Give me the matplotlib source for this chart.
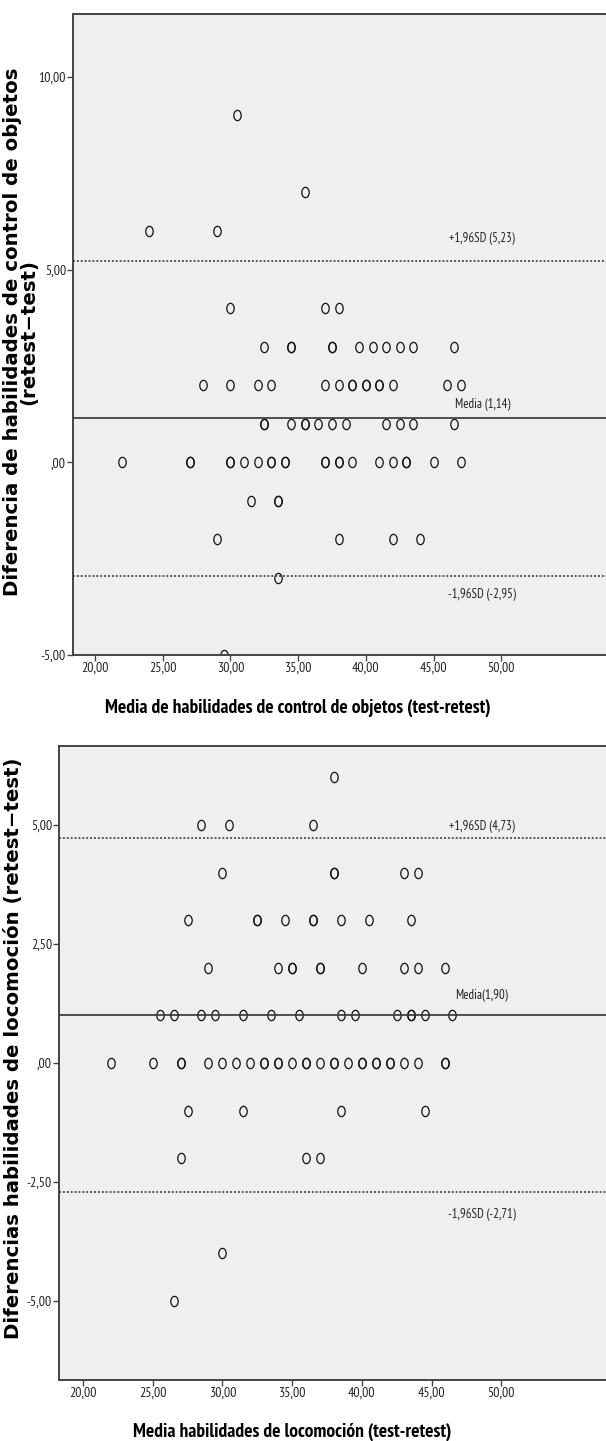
import numpy as np
import matplotlib
matplotlib.use("Agg")
import matplotlib.pyplot as plt
from matplotlib.path import Path

# Control de objetos: media (test-retest) vs diferencia (retest-test)
ctrl_x = [30.5,
          35.5,
          24, 29,
          30, 37, 38,
          32.5, 34.5, 34.5, 37.5, 37.5, 39.5, 40.5, 41.5, 42.5, 43.5, 46.5,
          28, 30, 32, 33, 37, 38, 39, 39, 40, 40, 41, 41, 42, 46, 47,
          32.5, 32.5, 34.5, 35.5, 35.5, 36.5, 37.5, 38.5, 41.5, 42.5, 43.5, 46.5,
          22, 27, 27, 30, 30, 31, 32, 33, 33, 34, 34, 37, 37, 38, 38, 39, 41, 42, 43, 43, 45, 47,
          31.5, 33.5, 33.5,
          29, 38, 42, 44,
          33.5,
          29.5]
ctrl_y = [9,
          7,
          6, 6,
          4, 4, 4,
          3, 3, 3, 3, 3, 3, 3, 3, 3, 3, 3,
          2, 2, 2, 2, 2, 2, 2, 2, 2, 2, 2, 2, 2, 2, 2,
          1, 1, 1, 1, 1, 1, 1, 1, 1, 1, 1, 1,
          0, 0, 0, 0, 0, 0, 0, 0, 0, 0, 0, 0, 0, 0, 0, 0, 0, 0, 0, 0, 0, 0,
          -1, -1, -1,
          -2, -2, -2, -2,
          -3,
          -5]
ctrl_mean = 1.14
ctrl_upper = 5.23
ctrl_lower = -2.95

# Locomocion
loco_x = [38,
          28.5, 30.5, 36.5,
          30, 38, 38, 43, 44,
          27.5, 32.5, 32.5, 34.5, 36.5, 36.5, 38.5, 40.5, 43.5,
          29, 34, 35, 35, 37, 37, 40, 43, 44, 46,
          25.5, 26.5, 28.5, 29.5, 31.5, 33.5, 35.5, 38.5, 39.5, 42.5, 43.5, 43.5, 44.5, 46.5,
          22, 25, 27, 27, 29, 30, 31, 32, 33, 33, 34, 34, 35, 36, 36, 37, 38, 38, 39, 40, 40,
          41, 41, 42, 42, 43, 44, 46, 46,
          27.5, 31.5, 38.5, 44.5,
          27, 36, 37,
          30,
          26.5]
loco_y = [6,
          5, 5, 5,
          4, 4, 4, 4, 4,
          3, 3, 3, 3, 3, 3, 3, 3, 3,
          2, 2, 2, 2, 2, 2, 2, 2, 2, 2,
          1, 1, 1, 1, 1, 1, 1, 1, 1, 1, 1, 1, 1, 1,
          0, 0, 0, 0, 0, 0, 0, 0, 0, 0, 0, 0, 0, 0, 0, 0, 0, 0, 0, 0, 0,
          0, 0, 0, 0, 0, 0, 0, 0,
          -1, -1, -1, -1,
          -2, -2, -2,
          -4,
          -5]
loco_mean_line = 1.0   # the drawn line sits at 1,00 in the original
loco_upper = 4.73
loco_lower = -2.71

ctrl_yticks = [-5, 0, 5, 10]
ctrl_yticklabels = ["-5,00", ",00", "5,00", "10,00"]
loco_yticks = [-5, -2.5, 0, 2.5, 5]
loco_yticklabels = ["-5,00", "-2,50", ",00", "2,50", "5,00"]
xticks = [20, 25, 30, 35, 40, 45, 50]
xticklabels = ["20,00", "25,00", "30,00", "35,00", "40,00", "45,00", "50,00"]

narrow = ["PT Sans Narrow", "DejaVu Sans"]

circ = Path.unit_circle()
oval = Path(circ.vertices * np.array([0.72, 1.0]), circ.codes)

fig = plt.figure(figsize=(6.06, 14.41), dpi=100)
W, H = 606.0, 1441.0


def panel(rect, xs, ys, xlim, ylim, yticks, yticklabels, lines, labels):
    left, top, right, bottom = rect
    ax = fig.add_axes([left / W, 1 - bottom / H, (right - left) / W, (bottom - top) / H])
    ax.set_facecolor("#efefef")
    for s in ax.spines.values():
        s.set_color("#444444")
        s.set_linewidth(1.4)
    ax.plot(xs, ys, linestyle="none", marker=oval, markersize=7.4,
            markerfacecolor="none", markeredgecolor="#111111", markeredgewidth=0.9)
    mean, up, lo = lines
    ax.axhline(up, color="#555555", lw=1.4, ls=(0, (1, 1)))
    ax.axhline(mean, color="#333333", lw=1.2)
    ax.axhline(lo, color="#555555", lw=1.4, ls=(0, (1, 1)))
    for (yv, txt, dy) in labels:
        ax.annotate(txt, (48.6, yv), xytext=(0, dy), textcoords="offset points",
                    ha="center", va="center", fontsize=9.2, family=narrow, color="#222222")
    ax.set_xlim(*xlim)
    ax.set_ylim(*ylim)
    ax.set_xticks(xticks)
    ax.set_xticklabels(xticklabels)
    ax.set_yticks(yticks)
    ax.set_yticklabels(yticklabels)
    ax.tick_params(direction="out", length=4, width=1, color="#444444", pad=1,
                   labelsize=10, labelcolor="#222222")
    for lab in ax.get_xticklabels() + ax.get_yticklabels():
        lab.set_family(narrow)
    return ax


ax1 = panel((73, 14, 620, 655), ctrl_x, ctrl_y, (18.37, 58.77), (-5, 11.63),
            ctrl_yticks, ctrl_yticklabels, (ctrl_mean, ctrl_upper, ctrl_lower),
            [(ctrl_upper, "+1,96SD (5,23)", 16), (ctrl_mean, "Media (1,14)", 10),
             (ctrl_lower, "-1,96SD (-2,95)", -13)])
ax2 = panel((59, 746, 620, 1380), loco_x, loco_y, (18.28, 58.52), (-6.66, 6.66),
            loco_yticks, loco_yticklabels, (loco_mean_line, loco_upper, loco_lower),
            [(loco_upper, "+1,96SD (4,73)", 8), (loco_mean_line, "Media(1,90)", 14),
             (loco_lower, "-1,96SD (-2,71)", -16)])

fig.text(298 / W, 1 - 708 / H, "Media de habilidades de control de objetos (test-retest)",
         ha="center", va="center", fontsize=14, fontweight="bold", family=narrow)
fig.text(292 / W, 1 - 1432 / H, "Media habilidades de locomoción (test-retest)",
         ha="center", va="center", fontsize=14, fontweight="bold", family=narrow)
fig.text(21 / W, 1 - 332 / H, "Diferencia de habilidades de control de objetos\n(retest\u2212test)",
         ha="center", va="center", rotation=90, fontsize=14.2, fontweight="bold",
         linespacing=0.82)
fig.text(14 / W, 1 - 1048 / H, "Diferencias habilidades de locomoción (retest\u2212test)",
         ha="center", va="center", rotation=90, fontsize=14.2, fontweight="bold")

fig.savefig("out.png", dpi=100)
